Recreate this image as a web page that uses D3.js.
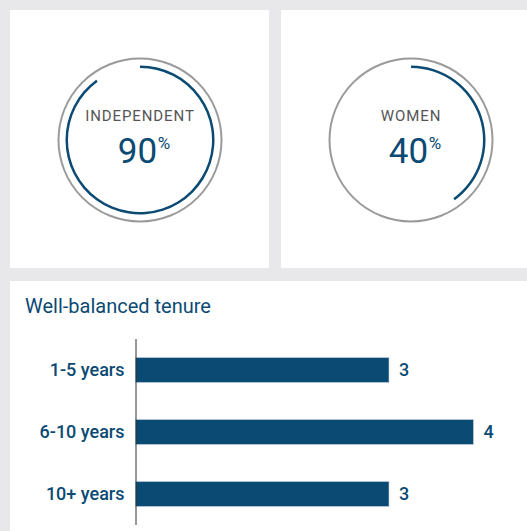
<!DOCTYPE html>
<html>
<head>
<meta charset="utf-8">
<script src="https://cdnjs.cloudflare.com/ajax/libs/d3/7.8.5/d3.min.js"></script>
<style>
  body { margin: 0; background: #e8e8ea; }
  svg { display: block; }
</style>
</head>
<body>
<svg width="527" height="531"></svg>
<script>
// ring stats
var ringLabels = ["INDEPENDENT", "WOMEN"];
var ringValues = [90, 40];

// tenure bars
var tenureTitle = "Well-balanced tenure";
var tenureCategories = ["1-5 years", "6-10 years", "10+ years"];
var tenureValues = [3, 4, 3];

var svg = d3.select("svg"),
    blue = "#0a4a73",
    grey = "#9a9a9a";

// white panels
svg.append("rect").attr("x", 10).attr("y", 10).attr("width", 259).attr("height", 258).style("fill", "#fff");
svg.append("rect").attr("x", 281).attr("y", 10).attr("width", 246).attr("height", 258).style("fill", "#fff");
svg.append("rect").attr("x", 10).attr("y", 281).attr("width", 517).attr("height", 250).style("fill", "#fff");

var ringCenters = [140, 411];
var pct = d3.scaleLinear().domain([0, 100]).range([0, 2 * Math.PI]);
var arc = d3.arc().innerRadius(72).outerRadius(74.5).startAngle(0);

ringLabels.forEach(function (label, i) {
    var g = svg.append("g").attr("transform", "translate(" + ringCenters[i] + ",140)");

    g.append("circle")
        .attr("r", 81.5)
        .style("fill", "none")
        .style("stroke", grey)
        .style("stroke-width", "2px");

    g.append("path")
        .attr("d", arc({endAngle: pct(ringValues[i])}))
        .style("fill", blue);

    g.append("text")
        .attr("y", -19)
        .attr("text-anchor", "middle")
        .style("font-family", "Roboto")
        .style("font-weight", 400)
        .style("font-size", "15px")
        .style("letter-spacing", "0.9px")
        .style("fill", "#555")
        .text(label);

    var t = g.append("text")
        .attr("x", 4)
        .attr("y", 23)
        .attr("text-anchor", "middle")
        .style("font-family", "Roboto")
        .style("font-weight", 400)
        .style("fill", blue);
    t.append("tspan").style("font-size", "35px").text(ringValues[i]);
    t.append("tspan").attr("dx", 0.5).attr("dy", -14).style("font-size", "17px").text("%");
});

// bar chart
svg.append("text")
    .attr("x", 25)
    .attr("y", 313)
    .style("font-family", "Roboto")
    .style("font-size", "20px")
    .style("fill", blue)
    .text(tenureTitle);

var x = d3.scaleLinear()
    .domain([0, 4])
    .range([135.5, 473.5]);

var y = d3.scaleBand()
    .domain(tenureCategories)
    .range([339, 525])
    .paddingInner(0.597)
    .paddingOuter(0.2985);

svg.append("g")
    .selectAll("rect")
    .data(tenureValues)
    .enter()
    .append("rect")
    .attr("x", x(0))
    .attr("y", function (d, i) {return y(tenureCategories[i])})
    .attr("width", function (d) {return x(d) - x(0)})
    .attr("height", y.bandwidth())
    .style("fill", blue)
    .style("stroke", "#c9d6e0")
    .style("stroke-width", "0.6px");

var yAxis = d3.axisLeft(y).tickSize(0).tickPadding(11);
var ax = svg.append("g")
    .attr("transform", "translate(" + x(0) + ",0)")
    .call(yAxis);
ax.select(".domain").attr("d", "M0.5," + 339 + "V" + 525).style("stroke", "#333");
ax.selectAll("text")
    .style("font-family", "Roboto")
    .style("font-weight", 500)
    .style("font-size", "18px")
    .style("fill", blue);

svg.append("g")
    .selectAll("text")
    .data(tenureValues)
    .enter()
    .append("text")
    .attr("x", function (d) {return x(d) + 10})
    .attr("y", function (d, i) {return y(tenureCategories[i]) + y.bandwidth() / 2})
    .attr("dy", "0.35em")
    .style("font-family", "Roboto")
    .style("font-weight", 500)
    .style("font-size", "18px")
    .style("fill", blue)
    .text(function (d) {return d});
</script>
</body>
</html>
